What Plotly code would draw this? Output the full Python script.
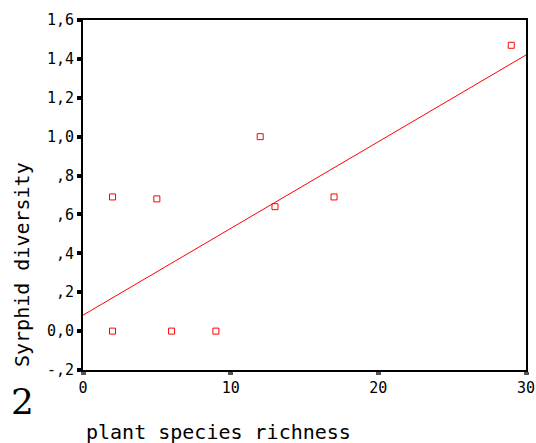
import plotly.graph_objects as go

# plant species richness vs. syrphid diversity
richness = [2, 2, 5, 6, 9, 12, 13, 17, 29]
diversity = [0.69, 0.0, 0.68, 0.0, 0.0, 1.0, 0.64, 0.69, 1.47]

# linear fit line (intercept, slope)
fit_intercept = 0.082
fit_slope = 0.0446

x_range = [0, 30]
y_range = [-0.2, 1.6]

y_tickvals = [1.6, 1.4, 1.2, 1.0, 0.8, 0.6, 0.4, 0.2, 0.0, -0.2]
y_ticktext = ["1,6", "1,4", "1,2", "1,0", ",8", ",6", ",4", ",2", "0,0", "-,2"]
x_tickvals = [0, 10, 20, 30]
x_ticktext = ["0", "10", "20", "30"]

font_main = "DejaVu Sans Mono"
font_serif = "DejaVu Serif"

fig = go.Figure()

fit_x = x_range
fit_y = [fit_intercept + fit_slope * v for v in fit_x]
fig.add_trace(go.Scatter(
    x=fit_x, y=fit_y, mode="lines",
    line=dict(color="#ff0000", width=1),
    hoverinfo="skip", showlegend=False, cliponaxis=True,
))

fig.add_trace(go.Scatter(
    x=richness, y=diversity, mode="markers",
    marker=dict(symbol="square-open", size=6, color="#ff0000",
                line=dict(color="#ff0000", width=1)),
    showlegend=False, cliponaxis=False,
))

fig.update_layout(
    width=536, height=443,
    margin=dict(l=83, r=10, t=20, b=73, autoexpand=False),
    paper_bgcolor="white", plot_bgcolor="white",
    font=dict(family=font_main, color="black", size=15),
    xaxis=dict(
        range=x_range, tickvals=x_tickvals, ticktext=x_ticktext,
        showgrid=False, zeroline=False, automargin=False,
        showline=True, linecolor="black", linewidth=2, mirror=True,
        ticks="outside", ticklen=3, tickwidth=5, tickcolor="#555555",
        tickfont=dict(family=font_main, size=15),
    ),
    yaxis=dict(
        range=y_range, tickvals=y_tickvals, ticktext=y_ticktext,
        showgrid=False, zeroline=False, automargin=False,
        showline=True, linecolor="black", linewidth=2, mirror=True,
        ticks="outside", ticklen=4, tickwidth=4, tickcolor="black",
        tickfont=dict(family=font_main, size=15),
    ),
    annotations=[
        dict(text="Syrphid diversity", x=22, y=265, xref="paper", yref="paper",
             showarrow=False, textangle=-90,
             font=dict(family=font_main, size=20)),
        dict(text="plant species richness", x=218, y=432, xref="paper", yref="paper",
             showarrow=False, font=dict(family=font_main, size=20)),
        dict(text="2", x=23, y=401, xref="paper", yref="paper",
             showarrow=False, font=dict(family=font_serif, size=36)),
    ],
)

# annotation coordinates above are given in pixels; convert to paper units
pw = 536 - 83 - 10
ph = 443 - 20 - 73
for a in fig.layout.annotations:
    px, py = a.x, a.y
    a.x = (px - 83) / pw
    a.y = (443 - 73 - py) / ph
    a.xanchor = "center"
    a.yanchor = "middle"

fig.write_html("out.html")
